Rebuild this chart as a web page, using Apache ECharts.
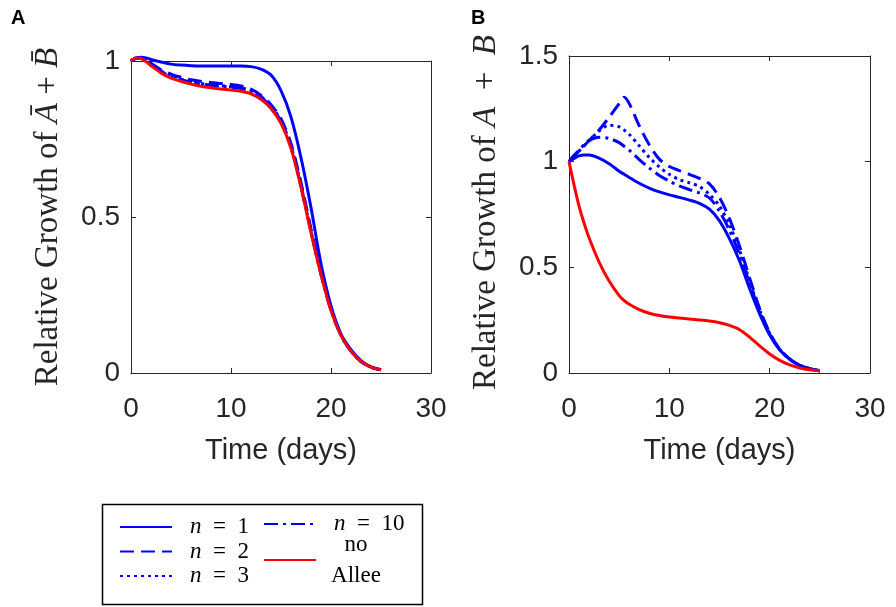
<!DOCTYPE html>
<html><head><meta charset="utf-8">
<script src="https://cdn.jsdelivr.net/npm/echarts@6/dist/echarts.min.js"></script>
<style>html,body{margin:0;padding:0;background:#fff}#c{width:896px;height:607px}</style>
</head><body><div id="c"></div>
<script>
// ---------- data ----------
const xTicks = [0, 10, 20, 30];
const timeA = [0,0.5,1,1.5,2,3,4,5,6,7,8,9,10,11,12,13,14,15,16,17,18,19,20,21,22,23,24,25];
const A_n1  = [1.000,1.008,1.012,1.010,1.005,0.997,0.990,0.987,0.985,0.984,0.984,0.984,0.984,0.984,0.982,0.974,0.955,0.905,0.820,0.690,0.530,0.350,0.215,0.125,0.075,0.040,0.020,0.011];
const A_n2  = [1.000,1.010,1.010,1.003,0.993,0.972,0.958,0.948,0.940,0.935,0.931,0.928,0.925,0.920,0.910,0.890,0.860,0.815,0.735,0.610,0.462,0.322,0.204,0.122,0.070,0.037,0.019,0.010];
const A_n3  = [1.000,1.010,1.009,1.001,0.990,0.968,0.952,0.942,0.934,0.928,0.924,0.921,0.918,0.914,0.905,0.886,0.856,0.808,0.728,0.600,0.455,0.318,0.202,0.121,0.070,0.037,0.019,0.010];
const A_n10 = [1.000,1.010,1.009,1.000,0.989,0.966,0.950,0.940,0.932,0.926,0.922,0.919,0.916,0.912,0.903,0.884,0.854,0.806,0.725,0.598,0.453,0.317,0.201,0.121,0.070,0.037,0.019,0.010];
const A_noAllee = [1.000,1.010,1.008,0.998,0.985,0.962,0.945,0.935,0.926,0.919,0.914,0.910,0.907,0.903,0.895,0.877,0.848,0.800,0.720,0.595,0.450,0.315,0.200,0.120,0.070,0.037,0.019,0.010];

const timeB = [0,0.5,1,1.5,2,3,4,5,5.5,6,7,8,9,10,11,12,13,14,15,16,17,18,19,20,21,22,23,24,25];
const B_n1  = [1.000,1.015,1.027,1.032,1.032,1.017,0.990,0.955,0.940,0.925,0.898,0.875,0.857,0.843,0.831,0.818,0.803,0.775,0.720,0.635,0.530,0.400,0.280,0.180,0.110,0.065,0.036,0.020,0.011];
const B_n2  = [1.000,1.025,1.050,1.075,1.100,1.150,1.210,1.275,1.305,1.275,1.170,1.080,1.012,0.977,0.958,0.940,0.921,0.895,0.830,0.730,0.600,0.450,0.305,0.190,0.113,0.066,0.036,0.020,0.011];
const B_n3  = [1.000,1.025,1.050,1.075,1.100,1.145,1.172,1.165,1.150,1.130,1.075,1.020,0.975,0.940,0.915,0.900,0.882,0.845,0.790,0.700,0.580,0.435,0.298,0.188,0.112,0.066,0.036,0.020,0.011];
const B_n10 = [1.000,1.030,1.055,1.080,1.100,1.115,1.110,1.090,1.073,1.055,1.010,0.970,0.935,0.908,0.885,0.868,0.852,0.828,0.765,0.675,0.560,0.425,0.293,0.186,0.111,0.065,0.036,0.020,0.011];
const B_noAllee = [1.000,0.890,0.790,0.710,0.640,0.525,0.435,0.366,0.342,0.325,0.300,0.283,0.272,0.265,0.260,0.255,0.251,0.246,0.238,0.225,0.205,0.170,0.128,0.090,0.060,0.038,0.024,0.015,0.010];

const seriesNames = ['n = 1', 'n = 2', 'n = 3', 'n = 10', 'no Allee'];

// ---------- styling ----------
const AX = '#262626';
const BLUE = '#0000ff', RED = '#ff0000';
const styles = {
  'n = 1':   {color: BLUE, type: 'solid'},
  'n = 2':   {color: BLUE, type: [14, 7]},
  'n = 3':   {color: BLUE, type: [3, 4]},
  'n = 10':  {color: BLUE, type: [14, 5, 3, 5]},
  'no Allee':{color: RED,  type: 'solid'}
};
const zip = (t, v) => t.map((x, i) => [x, v[i]]);

function xAxes(g) {
  const line = {show: true, onZero: false, lineStyle: {color: AX, width: 1}};
  const tick = {show: true, inside: true, length: 5, lineStyle: {color: AX}};
  return [
    {type: 'value', gridIndex: g, min: xTicks[0], max: xTicks[xTicks.length-1], interval: 10, position: 'bottom',
     axisLine: line, axisTick: tick, splitLine: {show: false},
     axisLabel: {fontSize: 28, fontFamily: 'Liberation Sans', color: AX, margin: 22},
     name: 'Time (days)', nameLocation: 'middle', nameGap: 63,
     nameTextStyle: {fontSize: 29, fontFamily: 'Liberation Sans', color: AX}},
    {type: 'value', gridIndex: g, min: xTicks[0], max: xTicks[xTicks.length-1], interval: 10, position: 'top',
     axisLine: line, axisTick: tick, splitLine: {show: false}, axisLabel: {show: false}}
  ];
}
function yAxes(g, max, name, pad) {
  const line = {show: true, onZero: false, lineStyle: {color: AX, width: 1}};
  const tick = {show: true, inside: true, length: 5, lineStyle: {color: AX}};
  return [
    {type: 'value', gridIndex: g, min: 0, max: max, interval: 0.5, position: 'left',
     axisLine: line, axisTick: tick, splitLine: {show: false},
     axisLabel: {fontSize: 28, fontFamily: 'Liberation Sans', color: AX, margin: 11},
     name: name, nameLocation: 'middle', nameRotate: 90, nameGap: 66,
     nameTextStyle: {fontSize: 33, fontFamily: 'Liberation Serif', color: AX, padding: pad,
       rich: {t: {fontSize: 33, fontFamily: 'Liberation Serif', color: AX},
              i: {fontSize: 33, fontFamily: 'Liberation Serif', fontStyle: 'italic', color: AX}}}},
    {type: 'value', gridIndex: g, min: 0, max: max, interval: 0.5, position: 'right',
     axisLine: line, axisTick: tick, splitLine: {show: false}, axisLabel: {show: false}}
  ];
}

function mk(name, xi, yi, t, v, clip) {
  const s = styles[name];
  return {type: 'line', name: name, xAxisIndex: xi, yAxisIndex: yi, data: zip(t, v),
    symbol: 'none', smooth: 0.3, clip: clip, silent: true,
    lineStyle: {color: s.color, width: 3, type: s.type, cap: 'butt'},
    itemStyle: {color: s.color}};
}

function legText(pad) {
  return {fontSize: 23, fontFamily: 'Liberation Serif', color: '#000', padding: [0, 0, 0, pad],
    rich: {i: {fontSize: 23, fontFamily: 'Liberation Serif', fontStyle: 'italic', color: '#000'},
           r: {fontSize: 23, fontFamily: 'Liberation Serif', color: '#000'},
           c: {fontSize: 23, fontFamily: 'Liberation Serif', color: '#000', width: 54, align: 'center', lineHeight: 31}}};
}
const nFmt = name => name === 'no Allee' ? '{c|no}\n{c|Allee}'
  : '{i|n}{r|\u2002=\u2002' + name.split('= ')[1] + '}';
const legBase = {orient: 'vertical', padding: 0, itemWidth: 52, itemHeight: 14, selectedMode: false,
  itemStyle: {opacity: 0}, formatter: nFmt};

const chart = echarts.init(document.getElementById('c'));
chart.setOption({
  animation: false,
  backgroundColor: '#fff',
  grid: [
    {left: 131, top: 61, width: 300, height: 312},
    {left: 569, top: 56, width: 301, height: 317}
  ],
  xAxis: [...xAxes(0), ...xAxes(1)],
  yAxis: [
    ...yAxes(0, 1, '{t|Relative Growth of }{i|\u0100}{t| + }{i|B\u0304}', [0, 0, 0, 0]),
    ...yAxes(1, 1.5, '{t|Relative Growth of }{i|A}{t|\u2002+\u2002}{i|B}', [0, 0, 0, 4])
  ],
  legend: [
    Object.assign({}, legBase, {data: seriesNames.slice(0, 3), left: 119, top: 515, itemGap: 0.5,
      textStyle: Object.assign({lineHeight: 24}, legText(13))}),
    Object.assign({}, legBase, {data: [seriesNames[3]], left: 263, top: 512,
      textStyle: Object.assign({lineHeight: 24}, legText(13))}),
    Object.assign({}, legBase, {data: [seriesNames[4]], left: 263, top: 533,
      textStyle: legText(8)})
  ],
  graphic: [
    {type: 'text', left: 11, top: 8, style: {text: 'A', font: 'bold 20px "Liberation Sans"', fill: '#000'}},
    {type: 'text', left: 471, top: 8, style: {text: 'B', font: 'bold 20px "Liberation Sans"', fill: '#000'}},
    {type: 'rect', shape: {x: 102.5, y: 504.5, width: 320, height: 100}, style: {fill: 'none', stroke: '#000', lineWidth: 1.5}}
  ],
  series: [
    mk('n = 1', 0, 0, timeA, A_n1, false),
    mk('n = 2', 0, 0, timeA, A_n2, false),
    mk('n = 3', 0, 0, timeA, A_n3, false),
    mk('n = 10', 0, 0, timeA, A_n10, false),
    mk('no Allee', 0, 0, timeA, A_noAllee, false),
    mk('n = 1', 2, 2, timeB, B_n1, true),
    mk('n = 2', 2, 2, timeB, B_n2, true),
    mk('n = 3', 2, 2, timeB, B_n3, true),
    mk('n = 10', 2, 2, timeB, B_n10, true),
    mk('no Allee', 2, 2, timeB, B_noAllee, true)
  ]
});
</script></body></html>
